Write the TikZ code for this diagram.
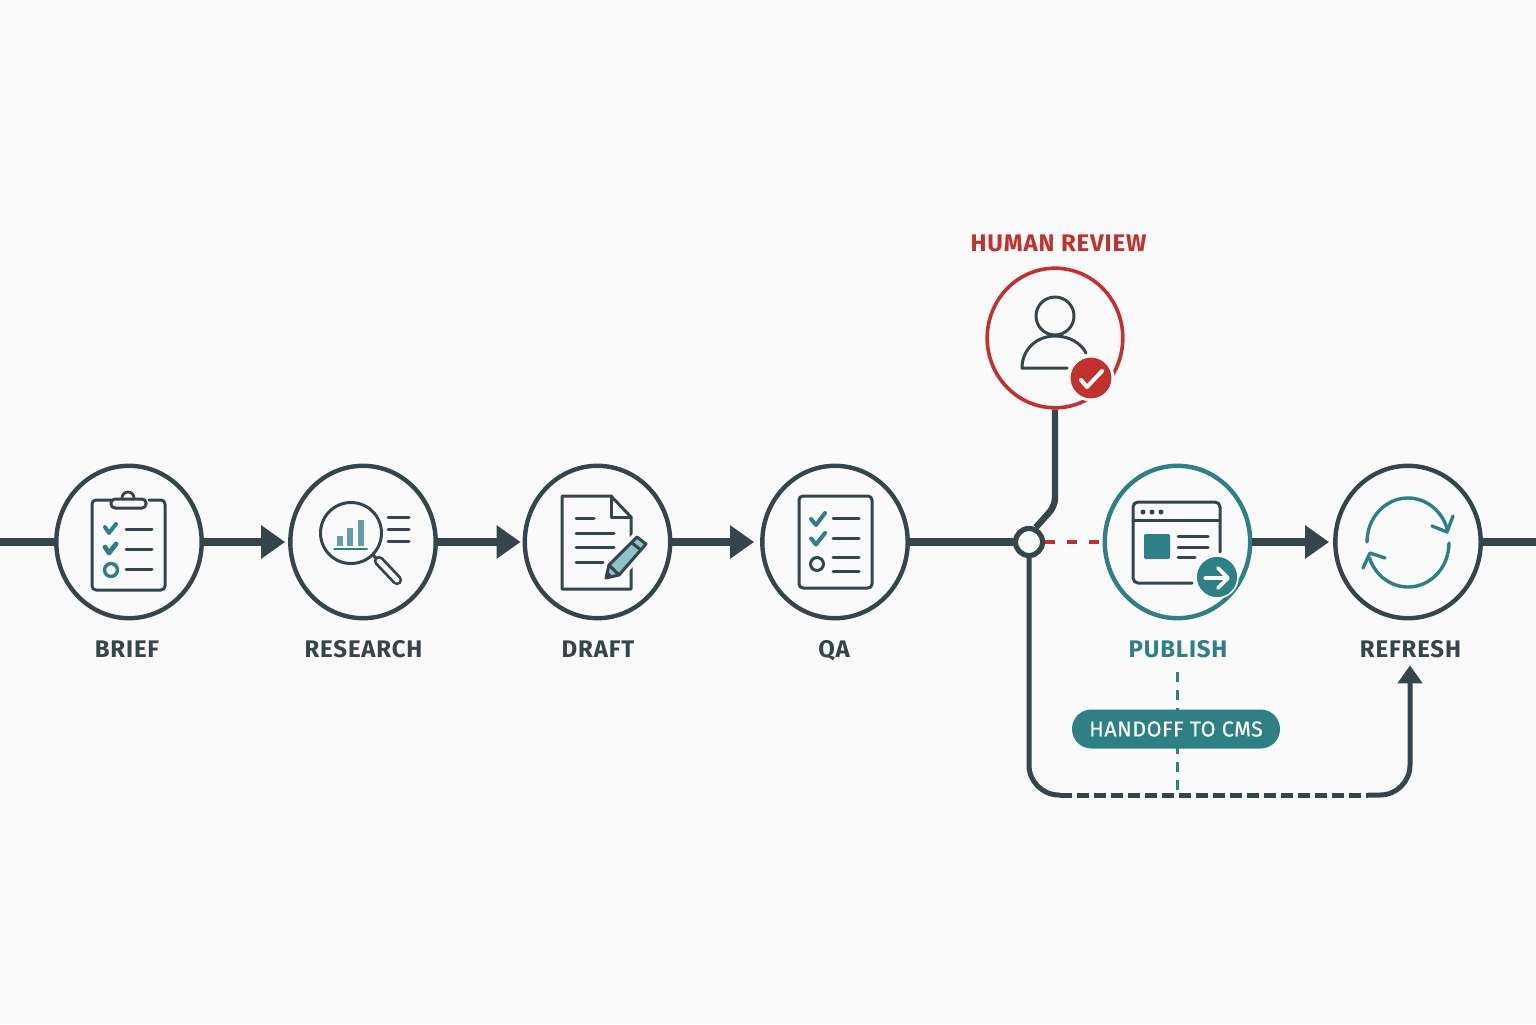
\documentclass[tikz,border=0pt]{standalone}
\usepackage{fontspec}
\setmainfont{Fira Sans}
\usetikzlibrary{arrows.meta,shapes.geometric}
\definecolor{inkdark}{HTML}{36454C}
\definecolor{tealmain}{HTML}{2F7F86}
\definecolor{tealsoft}{HTML}{8CC5C5}
\definecolor{redmain}{HTML}{C1322F}
\definecolor{paper}{HTML}{FBFAFA}
\tikzset{
  stage/.style={ellipse, draw=inkdark, fill=paper, line width=2.2pt, minimum width=72.7pt, minimum height=76.2pt, inner sep=0pt},
  stagelabel/.style={text=inkdark, font=\fontsize{12}{14}\selectfont\bfseries\addfontfeature{LetterSpace=3.5}, inner sep=0pt, anchor=base},
  mainline/.style={draw=inkdark, line width=4pt},
  flowarrow/.style={mainline, -{Triangle[length=12pt,width=16pt]}},
  icon/.style={draw=inkdark, line width=1.5pt, line cap=round, line join=round},
  tealicon/.style={draw=tealmain, line width=1.7pt, line cap=round, line join=round},
  redlink/.style={draw=redmain, line width=1.7pt, dash pattern=on 5pt off 6pt},
  teallink/.style={draw=tealmain, line width=1.5pt, dash pattern=on 5pt off 4pt},
  returnline/.style={draw=inkdark, line width=2.5pt},
}
\begin{document}
\begin{tikzpicture}[x=0.5pt, y=-0.5pt]
    \useasboundingbox[fill=paper] (0,0) rectangle (1536,1024);

    % Stages
    \node[stage] (brief) at (129,542) {};
    \node[stage] (research) at (363,542) {};
    \node[stage] (draft) at (597.5,542) {};
    \node[stage] (qa) at (835,542) {};
    \node[stage, draw=tealmain] (publish) at (1177.5,542) {};
    \node[stage] (refresh) at (1408,542) {};
    \node[stage, draw=redmain, line width=1.8pt, minimum width=67.8pt, minimum height=69.8pt] (review) at (1055,338) {};
    \node[circle, draw=inkdark, fill=paper, line width=2.6pt, minimum size=13.5pt, inner sep=0pt] (junction) at (1029,542) {};

    % Free ends of the lines
    \coordinate (leftend) at (0,542);
    \coordinate (rightend) at (1536,542);
    \coordinate (bendtop) at (1055,506);
    \coordinate (cornerl) at (1029,795);
    \coordinate (dashl) at (1060,795);
    \coordinate (dashr) at (1368,795);
    \coordinate (cornerr) at (1410,795);
    \coordinate (tealtop) at (1177,672);
    \coordinate (tealbot) at (1177,795);

    % Labels
    \node[stagelabel] (brieflabel) at (127,657.5) {BRIEF};
    \node[stagelabel] (researchlabel) at (363.5,657.5) {RESEARCH};
    \node[stagelabel] (draftlabel) at (598,657.5) {DRAFT};
    \node[stagelabel] (qalabel) at (834,657.5) {QA};
    \node[stagelabel, text=tealmain] (publishlabel) at (1178,657.5) {PUBLISH};
    \node[stagelabel] (refreshlabel) at (1410.5,657.5) {REFRESH};
    \node[stagelabel, text=redmain] (reviewlabel) at (1058.5,251.5) {HUMAN REVIEW};

    % Main line
    \draw[mainline] (leftend) -- (brief.west);
    \draw[flowarrow, shorten >=1.5pt] (brief.east) -- (research.west);
    \draw[flowarrow, shorten >=1pt] (research.east) -- (draft.west);
    \draw[flowarrow, shorten >=3pt] (draft.east) -- (qa.west);
    \draw[mainline] (qa.east) -- (junction.west);
    \draw[flowarrow, shorten >=2pt] (publish.east) -- (refresh.west);
    \draw[mainline] (refresh.east) -- (rightend);

    % Review branch
    \draw[draw=inkdark, line width=3.2pt, rounded corners=4pt] (review.south) -- (bendtop) -- (junction.65);
    \draw[redlink] (junction.east) -- (publish.west);

    % Return line
    \draw[teallink] (tealtop) -- (tealbot);
    \draw[returnline, rounded corners=15pt] (junction.south) -- (cornerl) -- (dashl);
    \draw[returnline, dash pattern=on 6pt off 2.5pt] (dashl) -- (dashr);
    \draw[returnline, rounded corners=15pt, shorten >=3.5pt, -{Triangle[length=9pt,width=12pt]}] (dashr) -- (cornerr) -- (refreshlabel.south -| cornerr);

    % Handoff pill
    \node[fill=tealmain, text=white, rounded corners=9.7pt, minimum width=104pt, minimum height=19.5pt, inner sep=0pt,
          font=\fontsize{10.8}{12}\selectfont\addfontfeature{LetterSpace=2,FakeBold=0.3}] (handoff) at (1176,729) {HANDOFF TO CMS};

    % Brief icon
    \draw[icon, rounded corners=2pt] (111,500) -- (92,500) -- (92,590) -- (165,590) -- (165,500) -- (149,500);
    \draw[icon, rounded corners=2pt] (111,508) -- (146,508) -- (146,499) -- (111,499) -- cycle;
    \draw[icon, line width=1.4pt] (122,498) arc[start angle=180, end angle=360, radius=6];
    \draw[tealicon, line width=2pt] (105,527) -- (109,533) -- (116,524);
    \draw[tealicon, line width=2.4pt] (105,547) -- (109,553) -- (116,544);
    \draw[tealicon] (111,570) circle[radius=6.5];
    \draw[icon] (126,529) -- (152,529);
    \draw[icon] (126,549) -- (152,549);
    \draw[icon] (126,569) -- (152,569);

    % Research icon
    \draw[icon] (351,533) circle[radius=30.5];
    \fill[tealmain!75] (337,536) rectangle (343,546);
    \fill[tealmain!75] (347,528) rectangle (353,546);
    \fill[tealmain!75] (358,520) rectangle (364,546);
    \draw[tealicon, line width=1pt] (334,549) -- (367,549);
    \draw[icon] (388,517) -- (409,517);
    \draw[icon] (388,529) -- (409,529);
    \draw[icon] (388,541) -- (409,541);
    \draw[icon] (373,555) -- (379,561);
    \draw[icon, line width=5.2pt] (379,561) -- (397,580);
    \draw[draw=paper, line width=2.4pt, line cap=round] (379,561) -- (397,580);

    % Draft icon
    \draw[icon] (631,537) -- (631,517) -- (611,496) -- (562,496) -- (562,589) -- (631,589) -- (631,563);
    \draw[icon] (611,496) -- (611,517) -- (631,517);
    \draw[icon] (576,518) -- (594,518);
    \draw[icon] (576,533) -- (614,533);
    \draw[icon] (576,547) -- (614,547);
    \draw[icon] (576,562) -- (603,562);
    \draw[draw=paper, line width=5pt, line join=round] (606,578) -- (609,565) -- (637,537) -- (646,544) -- (619,575) -- cycle;
    \draw[icon, fill=tealsoft, line width=1.5pt] (606,578) -- (609,565) -- (637,537) -- (646,544) -- (619,575) -- cycle;
    \draw[icon, line width=1.5pt] (632,543) -- (641,550);
    \draw[icon, line width=1.5pt] (609,565) -- (619,575);
    \fill[inkdark] (606,578) -- (607.5,571) -- (613,576.5) -- cycle;

    % QA icon
    \draw[icon, rounded corners=2pt] (799,496) rectangle (872,588);
    \draw[tealicon, line width=2pt] (811,519) -- (816,525) -- (825,513);
    \draw[tealicon, line width=2pt] (811,538.5) -- (816,544.5) -- (825,533);
    \draw[icon] (817,564) circle[radius=6.5];
    \draw[icon] (833,518) -- (859,518);
    \draw[icon] (833,538) -- (859,538);
    \draw[icon] (833,557) -- (859,557);
    \draw[icon] (833,571) -- (859,571);

    % Review icon
    \draw[icon] (1055,316) circle[radius=19];
    \draw[icon] (1067,368) -- (1022,368) .. controls (1022,350) and (1036,336) .. (1055,336) .. controls (1069,336) and (1081,343) .. (1086,353);
    \fill[redmain, draw=paper, line width=1.5pt] (1091,378) circle[radius=22];
    \draw[draw=white, line width=2pt, line cap=round, line join=round] (1081,380) -- (1087,387) -- (1102,371);

    % Publish icon
    \draw[icon, rounded corners=2.5pt] (1192,583) -- (1133,583) -- (1133,502) -- (1220,502) -- (1220,552);
    \draw[icon] (1133,520) -- (1220,520);
    \foreach \px in {1143,1152,1161} {
        \fill[inkdark] (\px,512) circle[radius=2.5];
    }
    \fill[tealmain, rounded corners=0.7pt] (1144,534) rectangle (1170,559);
    \draw[icon] (1178,536) -- (1208,536);
    \draw[icon] (1178,547) -- (1208,547);
    \draw[icon] (1178,557) -- (1195,557);
    \fill[tealmain, draw=paper, line width=0.8pt] (1217,577) circle[radius=21];
    \draw[draw=white, line width=1.8pt, line cap=round, line join=round] (1205,578) -- (1227,578) (1218,568) -- (1228,578) -- (1218,588);

    % Refresh icon
    \draw[tealicon] (1367,542) arc[start angle=180, end angle=345, x radius=41, y radius=44];
    \draw[tealicon] (1453,516) -- (1447,532) -- (1432,526);
    \draw[tealicon] (1449,543) arc[start angle=0, end angle=160, x radius=41, y radius=44];
    \draw[tealicon] (1363,568) -- (1370,553) -- (1385,558);

\end{tikzpicture}
\end{document}
